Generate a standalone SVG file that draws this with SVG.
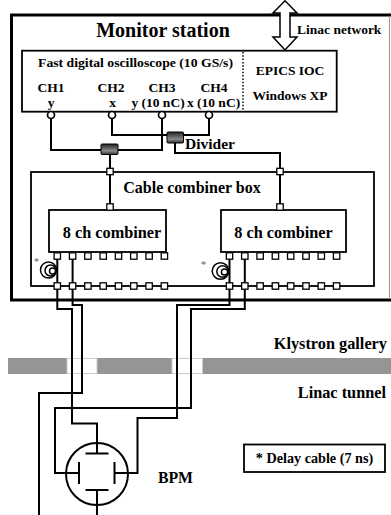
<svg xmlns="http://www.w3.org/2000/svg" width="391" height="515" viewBox="0 0 391 515">
<style>
.t{font-family:"Liberation Serif","Times New Roman",serif;font-weight:bold;fill:#000}
.ln{fill:none;stroke:#000;stroke-width:2}
.bx{fill:#fff;stroke:#000;stroke-width:1.8}
.sq{fill:#fff;stroke:#000;stroke-width:1.3}
.cr{fill:#fff;stroke:#000;stroke-width:1.7}
.coil{fill:none;stroke:#000;stroke-width:1.5}
.dv{fill:url(#dg);stroke:#000;stroke-width:1}
</style>
<defs>
<linearGradient id="dg" x1="0" y1="0" x2="0" y2="1">
<stop offset="0" stop-color="#222"/>
<stop offset="0.65" stop-color="#8a8a8a"/>
<stop offset="1" stop-color="#333"/>
</linearGradient>
<rect id="s" x="-3.2" y="-3.2" width="6.4" height="6.4" class="sq"/>
</defs>
<rect width="391" height="515" fill="#fff"/>

<g id="band">
<rect x="8" y="358" width="383" height="16" fill="#959595"/>
<rect x="67" y="358.5" width="30" height="15" fill="#fff" stroke="#ccc" stroke-width="1"/>
<rect x="172" y="358.5" width="30.5" height="15" fill="#fff" stroke="#ccc" stroke-width="1"/>
</g>

<g id="monitor">
<path d="M11.5 300 V15 H391" fill="none" stroke="#000" stroke-width="3"/>
<path d="M10 300 H391" fill="none" stroke="#000" stroke-width="3"/>
<line x1="389.5" y1="16" x2="389.5" y2="299" stroke="#999" stroke-width="1"/>
<text class="t" x="163" y="37" font-size="20" text-anchor="middle">Monitor station</text>
</g>

<g id="network">
<path d="M285 0.8 L297 13 H290 V37 H297 L285 50 L273 37 H280 V13 H273 Z" fill="#fff" stroke="#000" stroke-width="1.5"/>
<text class="t" x="297" y="34" font-size="13.5">Linac network</text>
</g>

<g id="scope">
<rect x="22" y="50.7" width="314.7" height="61" class="bx"/>
<line x1="243" y1="52" x2="243" y2="111" stroke="#000" stroke-width="1.5" stroke-dasharray="1.5 1.8"/>
<text class="t" x="38" y="66.5" font-size="13.5" textLength="195" lengthAdjust="spacingAndGlyphs">Fast digital oscilloscope (10 GS/s)</text>
<text class="t" x="51" y="92" font-size="13.5" text-anchor="middle">CH1</text>
<text class="t" x="111" y="92" font-size="13.5" text-anchor="middle">CH2</text>
<text class="t" x="162" y="92" font-size="13.5" text-anchor="middle">CH3</text>
<text class="t" x="214" y="92" font-size="13.5" text-anchor="middle">CH4</text>
<text class="t" x="51" y="107" font-size="13.5" text-anchor="middle">y</text>
<text class="t" x="112.5" y="107" font-size="13.5" text-anchor="middle">x</text>
<text class="t" x="158" y="107" font-size="13.5" text-anchor="middle">y (10 nC)</text>
<text class="t" x="213.5" y="107" font-size="13.5" text-anchor="middle">x (10 nC)</text>
<text class="t" x="290" y="75" font-size="13.5" text-anchor="middle">EPICS IOC</text>
<text class="t" x="290" y="100" font-size="13.5" text-anchor="middle">Windows XP</text>
</g>

<g id="ccbox">
<rect x="31" y="172" width="343" height="114" fill="none" stroke="#000" stroke-width="1.8"/>
<text class="t" x="192" y="193" font-size="16" text-anchor="middle">Cable combiner box</text>
</g>

<g id="connectors">
<path class="ln" d="M51 118.5 V150 H101 M118 150 H162 V118.5"/>
<path class="ln" d="M112 118.5 V135 H167 M183 135 H209 V118.5"/>
<path class="ln" d="M175 143 V153 H280 V207"/>
<path class="ln" d="M110 154 V207"/>
<path class="ln" d="M57.3 256 V309 H72 V423.5 H97 V453"/>
<path class="ln" d="M72.6 256 V305 H82 V393 H39 V515"/>
<path class="ln" d="M229.5 256 V305 H177 V418 H137.5 V473 H114"/>
<path class="ln" d="M244.8 256 V309 H191 V408 H55 V473 H79"/>
<path class="ln" d="M97 490 V515"/>
</g>

<g id="divider1"><rect x="101" y="144" width="17" height="10.5" rx="1" class="dv"/></g>
<g id="divider2">
<rect x="167" y="132" width="16.5" height="11" rx="1" class="dv"/>
<text class="t" x="185" y="148.5" font-size="15.5">Divider</text>
</g>

<g id="scope-ports">
<circle cx="51" cy="115" r="3.5" class="cr"/>
<circle cx="112" cy="115" r="3.5" class="cr"/>
<circle cx="162" cy="115" r="3.5" class="cr"/>
<circle cx="209" cy="115" r="3.5" class="cr"/>
</g>

<g id="box-ports">
<use href="#s" x="110" y="171.5"/>
<use href="#s" x="280" y="171.5"/>
</g>

<g id="combiner1">
<rect x="49" y="210" width="117" height="42" class="bx"/>
<text class="t" x="112" y="238" font-size="16.3" text-anchor="middle">8 ch combiner</text>
<use href="#s" x="110" y="207"/>
<use href="#s" x="57.3" y="256"/><use href="#s" x="72.6" y="256"/><use href="#s" x="87.9" y="256"/><use href="#s" x="103.2" y="256"/>
<use href="#s" x="118.5" y="256"/><use href="#s" x="133.8" y="256"/><use href="#s" x="149.1" y="256"/><use href="#s" x="164.4" y="256"/>
<use href="#s" x="57.3" y="286"/><use href="#s" x="72.6" y="286"/><use href="#s" x="87.9" y="286"/><use href="#s" x="103.2" y="286"/>
<use href="#s" x="118.5" y="286"/><use href="#s" x="133.8" y="286"/><use href="#s" x="149.1" y="286"/><use href="#s" x="164.4" y="286"/>
<circle cx="48.5" cy="270" r="8" class="coil"/>
<circle cx="50.5" cy="270.5" r="5.5" class="coil"/>
<circle cx="52.5" cy="271" r="3" class="coil"/>
<text x="36.5" y="265" font-size="11" fill="#666" font-family="Liberation Serif,serif" text-anchor="middle">*</text>
</g>

<g id="combiner2">
<rect x="221" y="210" width="125" height="42" class="bx"/>
<text class="t" x="283.5" y="238" font-size="16.3" text-anchor="middle">8 ch combiner</text>
<use href="#s" x="280" y="207"/>
<use href="#s" x="229.5" y="256"/><use href="#s" x="244.8" y="256"/><use href="#s" x="260.1" y="256"/><use href="#s" x="275.4" y="256"/>
<use href="#s" x="290.7" y="256"/><use href="#s" x="306" y="256"/><use href="#s" x="321.3" y="256"/><use href="#s" x="336.6" y="256"/>
<use href="#s" x="229.5" y="286"/><use href="#s" x="244.8" y="286"/><use href="#s" x="260.1" y="286"/><use href="#s" x="275.4" y="286"/>
<use href="#s" x="290.7" y="286"/><use href="#s" x="306" y="286"/><use href="#s" x="321.3" y="286"/><use href="#s" x="336.6" y="286"/>
<circle cx="220.5" cy="271" r="8.3" class="coil"/>
<circle cx="222.5" cy="271.5" r="5.7" class="coil"/>
<circle cx="224.5" cy="272" r="3.1" class="coil"/>
<text x="203.5" y="268" font-size="11" fill="#666" font-family="Liberation Serif,serif" text-anchor="middle">*</text>
</g>

<g id="labels">
<text class="t" x="387" y="349" font-size="16.3" text-anchor="end">Klystron gallery</text>
<text class="t" x="386" y="398" font-size="16.3" text-anchor="end">Linac tunnel</text>
</g>

<g id="legend">
<rect x="244" y="444.5" width="141" height="27.5" fill="#fff" stroke="#000" stroke-width="1.8"/>
<text class="t" x="314.5" y="463" font-size="14.2" text-anchor="middle">* Delay cable (7 ns)</text>
</g>

<g id="bpm">
<circle cx="97" cy="474" r="31" fill="none" stroke="#000" stroke-width="2"/>
<path class="ln" d="M85.5 453.5 H108.5 M85.5 490 H108.5 M79 462 V484 M114.5 462 V484"/>
<text class="t" x="175.5" y="483" font-size="15.8" text-anchor="middle">BPM</text>
</g>
</svg>
